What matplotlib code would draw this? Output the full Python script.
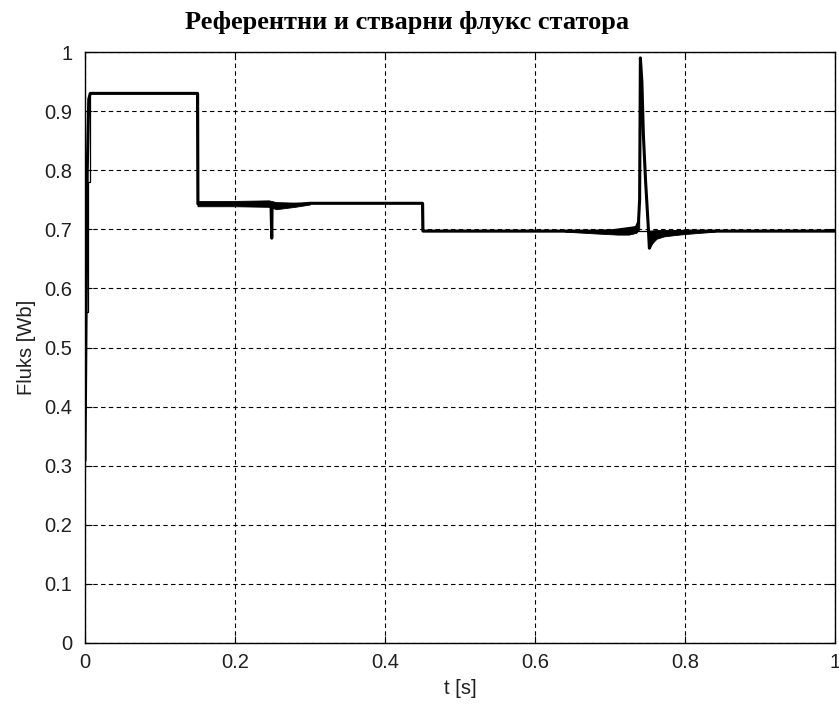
import matplotlib
matplotlib.use("Agg")
import matplotlib.pyplot as plt

# Reference (commanded) stator flux: step profile
t_ref = [0.0, 0.004, 0.004, 0.006, 0.006, 0.15, 0.15, 0.45, 0.45, 1.0]
psi_ref = [0.56, 0.56, 0.78, 0.78, 0.93, 0.93, 0.744, 0.744, 0.697, 0.697]

# Actual (estimated) stator flux
t_act = [0.0, 0.0015, 0.003, 0.005, 0.007, 0.15, 0.1505, 0.20, 0.248, 0.249, 0.2495,
         0.251, 0.26, 0.30, 0.45, 0.4505, 0.60, 0.70, 0.735, 0.738, 0.7395,
         0.7405, 0.7425, 0.7445, 0.7475, 0.751, 0.7525, 0.756, 0.762, 0.775, 0.80, 1.0]
psi_act = [0.31, 0.56, 0.80, 0.92, 0.93, 0.93, 0.743, 0.744, 0.744, 0.685, 0.744,
           0.738, 0.740, 0.744, 0.744, 0.697, 0.697, 0.697, 0.703, 0.712, 0.75,
           0.99, 0.95, 0.86, 0.78, 0.705, 0.668, 0.678, 0.688, 0.694, 0.697, 0.697]

# Ripple envelopes of the actual flux (upper / lower bounds)
t_rip1 = [0.15, 0.20, 0.245, 0.255, 0.28, 0.30]
up_rip1 = [0.748, 0.748, 0.749, 0.746, 0.745, 0.744]
lo_rip1 = [0.739, 0.739, 0.738, 0.734, 0.738, 0.742]

t_rip2 = [0.64, 0.68, 0.71, 0.725, 0.735, 0.739]
up_rip2 = [0.698, 0.699, 0.700, 0.702, 0.706, 0.714]
lo_rip2 = [0.696, 0.693, 0.691, 0.691, 0.694, 0.700]

t_rip3 = [0.752, 0.756, 0.762, 0.772, 0.785, 0.80, 0.82, 0.84]
up_rip3 = [0.698, 0.698, 0.699, 0.699, 0.699, 0.699, 0.698, 0.698]
lo_rip3 = [0.668, 0.676, 0.684, 0.688, 0.690, 0.692, 0.694, 0.696]

x_ticks = [0, 0.2, 0.4, 0.6, 0.8, 1]
x_labels = ["0", "0.2", "0.4", "0.6", "0.8", "1"]
y_ticks = [0, 0.1, 0.2, 0.3, 0.4, 0.5, 0.6, 0.7, 0.8, 0.9, 1]
y_labels = ["0", "0.1", "0.2", "0.3", "0.4", "0.5", "0.6", "0.7", "0.8", "0.9", "1"]

W, H = 839, 708
fig = plt.figure(figsize=(W / 100, H / 100), dpi=100)
ax = fig.add_axes([85 / W, (H - 643) / H, (835 - 85) / W, (643 - 52) / H])

for t_r, up_r, lo_r in ((t_rip1, up_rip1, lo_rip1),
                        (t_rip2, up_rip2, lo_rip2),
                        (t_rip3, up_rip3, lo_rip3)):
    ax.fill_between(t_r, lo_r, up_r, color="black", lw=0.6, edgecolor="black")

ax.plot(t_act, psi_act, color="black", lw=2.2, solid_joinstyle="round")
ax.plot(t_ref, psi_ref, color="black", lw=0.9)

ax.set_xlim(0, 1)
ax.set_ylim(0, 1)
ax.set_xticks(x_ticks)
ax.set_xticklabels(x_labels)
ax.set_yticks(y_ticks)
ax.set_yticklabels(y_labels)
ax.grid(True, color="black", linestyle=(0, (4, 3)), linewidth=0.8)
ax.tick_params(direction="in", length=5, width=0.8, labelsize=14.5,
               top=True, right=True, pad=7)
ax.tick_params(axis="y", pad=9)
for lbl in ax.get_xticklabels() + ax.get_yticklabels():
    lbl.set_fontfamily("Liberation Sans")
    lbl.set_color("#202020")
for s in ax.spines.values():
    s.set_linewidth(1.0)

ax.set_xlabel("t [s]", fontsize=14.5, family="Liberation Sans", labelpad=5,
              color="#202020")
ax.set_ylabel("Fluks [Wb]", fontsize=14.5, family="Liberation Sans", labelpad=6,
              color="#202020")
fig.text(407 / W, 1 - 23 / H, "Референтни и стварни флукс статора",
         fontsize=19, family="Liberation Serif", fontweight="bold",
         ha="center", va="center")

fig.savefig("out.png", dpi=100)
